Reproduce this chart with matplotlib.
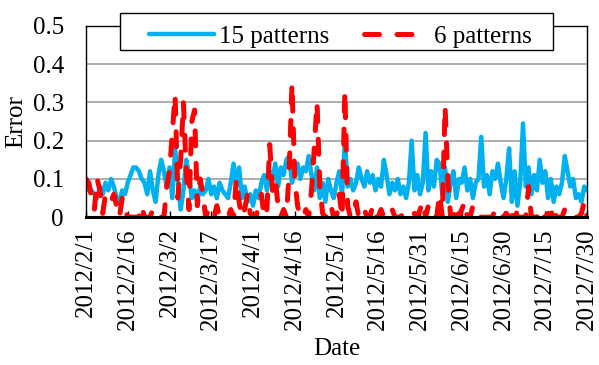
import matplotlib
matplotlib.use("Agg")
import matplotlib.pyplot as plt
from matplotlib.patches import Rectangle
import pandas as pd

plt.rcParams['font.family'] = ['Liberation Serif', 'DejaVu Serif']
plt.rcParams['font.size'] = 18

dates = pd.date_range('2012-02-01', '2012-07-30', freq='D')

# error of the 15-pattern model, one value per day
err_15 = [
    0.07, 0.08, 0.07, 0.06, 0.05, 0.08, 0.06, 0.09, 0.07, 0.10,
    0.08, 0.05, 0.04, 0.07, 0.06, 0.09, 0.11, 0.13, 0.13, 0.12,
    0.10, 0.09, 0.06, 0.12, 0.07, 0.04, 0.11, 0.15, 0.12, 0.08,
    0.13, 0.05, 0.18, 0.10, 0.02, 0.07, 0.15, 0.11, 0.05, 0.07,
    0.04, 0.08, 0.06, 0.07, 0.10, 0.06, 0.08, 0.05, 0.09, 0.07,
    0.06, 0.05, 0.09, 0.14, 0.08, 0.13, 0.05, 0.08, 0.04, 0.06,
    0.03, 0.07, 0.05, 0.09, 0.11, 0.07, 0.12, 0.10, 0.14, 0.08,
    0.13, 0.11, 0.15, 0.16, 0.09, 0.12, 0.14, 0.10, 0.13, 0.12,
    0.16, 0.11, 0.07, 0.13, 0.05, 0.09, 0.04, 0.10, 0.07, 0.05,
    0.09, 0.12, 0.06, 0.20, 0.08, 0.10, 0.07, 0.09, 0.13, 0.10,
    0.08, 0.12, 0.09, 0.11, 0.07, 0.10, 0.08, 0.15, 0.11, 0.06,
    0.09, 0.07, 0.10, 0.06, 0.08, 0.05, 0.09, 0.20, 0.07, 0.11,
    0.06, 0.09, 0.22, 0.07, 0.12, 0.08, 0.15, 0.14, 0.06, 0.13,
    0.04, 0.09, 0.12, 0.05, 0.10, 0.09, 0.13, 0.07, 0.10, 0.05,
    0.09, 0.10, 0.21, 0.08, 0.11, 0.06, 0.12, 0.10, 0.14, 0.09,
    0.05, 0.10, 0.18, 0.04, 0.12, 0.03, 0.09, 0.245, 0.08, 0.13,
    0.06, 0.11, 0.07, 0.15, 0.09, 0.12, 0.05, 0.10, 0.04, 0.08,
    0.06, 0.09, 0.16, 0.12, 0.08, 0.10, 0.05, 0.06, 0.04, 0.08, 0.07,
]

# error of the 6-pattern model
err_6 = [
    0.10, 0.09, 0.05, 0.02, 0.10, 0.07, 0.01, 0.06, 0.05, 0.04,
    0.06, 0.03, 0.00, 0.05, 0.02, 0.00, 0.00, 0.00, 0.00, 0.00,
    0.03, 0.00, 0.00, 0.00, 0.02, 0.00, 0.00, 0.00, 0.00, 0.08,
    0.12, 0.22, 0.32, 0.05, 0.15, 0.30, 0.12, 0.02, 0.25, 0.28,
    0.03, 0.10, 0.06, 0.00, 0.02, 0.00, 0.00, 0.03, 0.00, 0.00,
    0.00, 0.00, 0.02, 0.00, 0.10, 0.04, 0.00, 0.02, 0.06, 0.01,
    0.00, 0.00, 0.03, 0.06, 0.00, 0.02, 0.19, 0.07, 0.10, 0.03,
    0.00, 0.02, 0.00, 0.12, 0.35, 0.10, 0.03, 0.00, 0.00, 0.02,
    0.00, 0.07, 0.18, 0.30, 0.08, 0.01, 0.00, 0.00, 0.03, 0.00,
    0.00, 0.06, 0.00, 0.33, 0.03, 0.00, 0.00, 0.04, 0.00, 0.00,
    0.02, 0.00, 0.00, 0.03, 0.00, 0.00, 0.02, 0.00, 0.00, 0.00,
    0.02, 0.00, 0.00, 0.00, 0.01, 0.00, 0.00, 0.00, 0.01, 0.00,
    0.02, 0.04, 0.00, 0.03, 0.00, 0.00, 0.00, 0.06, 0.00, 0.29,
    0.10, 0.00, 0.00, 0.03, 0.00, 0.02, 0.04, 0.00, 0.00, 0.03,
    0.01, 0.00, 0.00, 0.00, 0.00, 0.00, 0.00, 0.02, 0.00, 0.00,
    0.00, 0.01, 0.00, 0.00, 0.03, 0.00, 0.00, 0.00, 0.00, 0.08,
    0.00, 0.00, 0.00, 0.02, 0.00, 0.00, 0.01, 0.00, 0.03, 0.00,
    0.00, 0.00, 0.02, 0.00, 0.00, 0.00, 0.00, 0.00, 0.01, 0.04, 0.00,
]

tick_dates = dates[::15]
tick_labels = [f"{d.year}/{d.month}/{d.day}" for d in tick_dates]

fig = plt.figure(figsize=(5.99, 3.65), dpi=100)
ax = fig.add_axes([0.1436, 0.405, 0.8364, 0.524])

ax.plot(dates, err_15, color='#00b0f0', lw=3.2, label='15 patterns',
        solid_capstyle='round', solid_joinstyle='round')
ax.plot(dates, err_6, color='#ff0000', lw=3.6, label='6 patterns',
        dashes=(3.0, 3.5), dash_capstyle='round')

ax.set_xlim(dates[0], dates[-1])
ax.set_ylim(0, 0.5)
ax.set_yticks([0, 0.1, 0.2, 0.3, 0.4, 0.5])
ax.set_yticklabels(['0', '0.1', '0.2', '0.3', '0.4', '0.5'])
ax.set_xticks(tick_dates)
ax.set_xticklabels(tick_labels, rotation=90)

ax.yaxis.grid(True, color='#a0a0a0', lw=1.2)
ax.set_axisbelow(True)
ax.tick_params(axis='y', length=0, pad=16)
ax.tick_params(axis='x', direction='in', length=4, width=1, pad=8)

for side in ['top', 'left', 'right']:
    ax.spines[side].set_linewidth(1.0)
ax.spines['bottom'].set_linewidth(2.2)

ax.set_ylabel('Error', labelpad=4)
ax.set_xlabel('Date', labelpad=6)

# legend box straddling the top spine
box = Rectangle((120 / 599, 1 - 49.5 / 365), 433 / 599, 36 / 365,
                transform=fig.transFigure, facecolor='white',
                edgecolor='black', lw=1.0, clip_on=False, zorder=4.9)
ax.add_patch(box)
leg = ax.legend(loc='center', bbox_to_anchor=(0.5684, 0.9),
                bbox_transform=fig.transFigure, ncol=2, frameon=False,
                handlelength=2.6, columnspacing=1.4, handletextpad=0.2)
leg.set_zorder(5)

fig.savefig('out.png', dpi=100)
